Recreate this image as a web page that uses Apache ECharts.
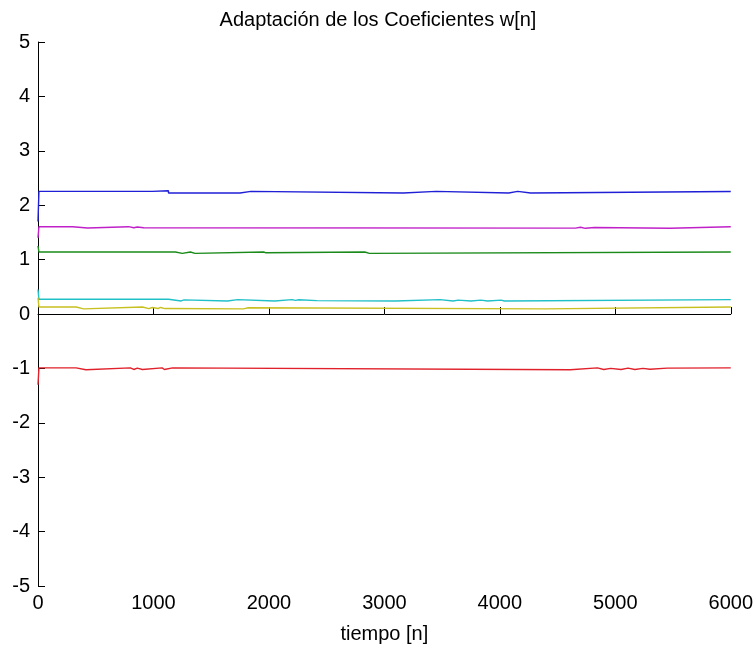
<!DOCTYPE html>
<html>
<head>
<meta charset="utf-8">
<script src="https://cdn.jsdelivr.net/npm/echarts@6/dist/echarts.min.js"></script>
<style>
  html, body { margin: 0; padding: 0; background: #fff; }
  #chart { width: 756px; height: 649px; }
</style>
</head>
<body>
<div id="chart"></div>
<script>
// coeficientes w[n]: puntos de cambio (n) y valor que se mantiene hasta el siguiente
const blueX = [0, 8, 990, 1130, 1750, 1845, 3164, 3448, 4077, 4155, 4267, 6000]
const blueY = [1.70, 2.255, 2.265, 2.225, 2.255, 2.225, 2.255, 2.225, 2.255, 2.225, 2.252, 2.252]

const magentaX = [0, 8, 300, 430, 785, 830, 860, 915, 4655, 4700, 4740, 4820, 5475, 6000]
const magentaY = [1.40, 1.605, 1.58, 1.605, 1.585, 1.60, 1.585, 1.578, 1.595, 1.575, 1.59, 1.575, 1.605, 1.605]

const greenX = [0, 8, 1190, 1250, 1320, 1360, 1955, 1975, 2830, 2870, 6000]
const greenY = [1.25, 1.14, 1.115, 1.14, 1.115, 1.14, 1.125, 1.14, 1.115, 1.14, 1.14]

const cyanX = [0, 8, 1130, 1240, 1265, 1640, 1730, 2050, 2200, 2230, 2260, 2415, 3095, 3482, 3595, 3640, 3750, 3835, 3895, 4010, 4040, 6000]
const cyanY = [0.45, 0.27, 0.24, 0.26, 0.24, 0.265, 0.24, 0.265, 0.25, 0.262, 0.245, 0.24, 0.265, 0.24, 0.255, 0.24, 0.255, 0.24, 0.255, 0.24, 0.265, 0.265]

const yellowX = [0, 8, 330, 395, 905, 960, 990, 1040, 1060, 1100, 1780, 1820, 4390, 6000]
const yellowY = [0.30, 0.128, 0.095, 0.128, 0.10, 0.12, 0.10, 0.12, 0.10, 0.095, 0.115, 0.095, 0.128, 0.128]

const redX = [0, 8, 330, 415, 800, 830, 860, 905, 1075, 1095, 1165, 4610, 4845, 4900, 4960, 5050, 5110, 5170, 5240, 5300, 5450, 6000]
const redY = [-1.30, -0.99, -1.025, -0.99, -1.02, -0.995, -1.02, -0.99, -1.02, -0.99, -1.025, -0.99, -1.02, -1.0, -1.02, -0.995, -1.02, -1.0, -1.015, -0.995, -0.99, -0.99]

const xTicks = ['0', '1000', '2000', '3000', '4000', '5000', '6000']
const yTicks = ['-5', '-4', '-3', '-2', '-1', '0', '1', '2', '3', '4', '5']

const font = 'Liberation Sans, Arial, sans-serif'

// escalones: el valor se mantiene hasta el siguiente punto de cambio
const stepPairs = (xs, ys) => {
  const out = []
  xs.forEach((x, i) => {
    if (i > 0) out.push([x, ys[i - 1]])
    out.push([x, ys[i]])
  })
  return out
}

const makeSeries = (name, color, xs, ys) => ({
  name: name,
  type: 'line',
  showSymbol: false,
  symbol: 'none',
  data: stepPairs(xs, ys),
  lineStyle: { color: color, width: 1.4 },
  itemStyle: { color: color }
})

const chart = echarts.init(document.getElementById('chart'))

chart.setOption({
  backgroundColor: '#fff',
  animation: false,
  title: {
    text: 'Adaptación de los Coeficientes w[n]',
    left: 'center',
    top: 5,
    textStyle: { fontFamily: font, fontSize: 20, fontWeight: 'normal', color: '#000' }
  },
  grid: { left: 38, right: 22, top: 42, bottom: 59 },
  xAxis: {
    type: 'value',
    min: 0,
    max: 6000,
    interval: 1000,
    name: 'tiempo [n]',
    nameLocation: 'middle',
    nameGap: 38,
    nameTextStyle: { fontFamily: font, fontSize: 20, color: '#000' },
    axisLine: { show: true, lineStyle: { color: '#000', width: 1 } },
    axisTick: { show: true, inside: true, length: 7, lineStyle: { color: '#000' } },
    axisLabel: {
      fontFamily: font, fontSize: 20, color: '#000', margin: 7,
      formatter: (v) => xTicks[Math.round(v / 1000)]
    },
    splitLine: { show: false }
  },
  yAxis: {
    type: 'value',
    min: -5,
    max: 5,
    interval: 1,
    axisLine: { show: true, lineStyle: { color: '#000', width: 1 } },
    axisTick: { show: true, inside: true, length: 7, lineStyle: { color: '#000' } },
    axisLabel: {
      fontFamily: font, fontSize: 20, color: '#000', margin: 8,
      formatter: (v) => yTicks[Math.round(v) + 5]
    },
    splitLine: { show: false }
  },
  series: [
    makeSeries('w1', '#1f1fd6', blueX, blueY),
    makeSeries('w2', '#1a8a1a', greenX, greenY),
    makeSeries('w3', '#e0202a', redX, redY),
    makeSeries('w4', '#20c0c8', cyanX, cyanY),
    makeSeries('w5', '#c020c8', magentaX, magentaY),
    makeSeries('w6', '#c8c020', yellowX, yellowY)
  ]
})
</script>
</body>
</html>
